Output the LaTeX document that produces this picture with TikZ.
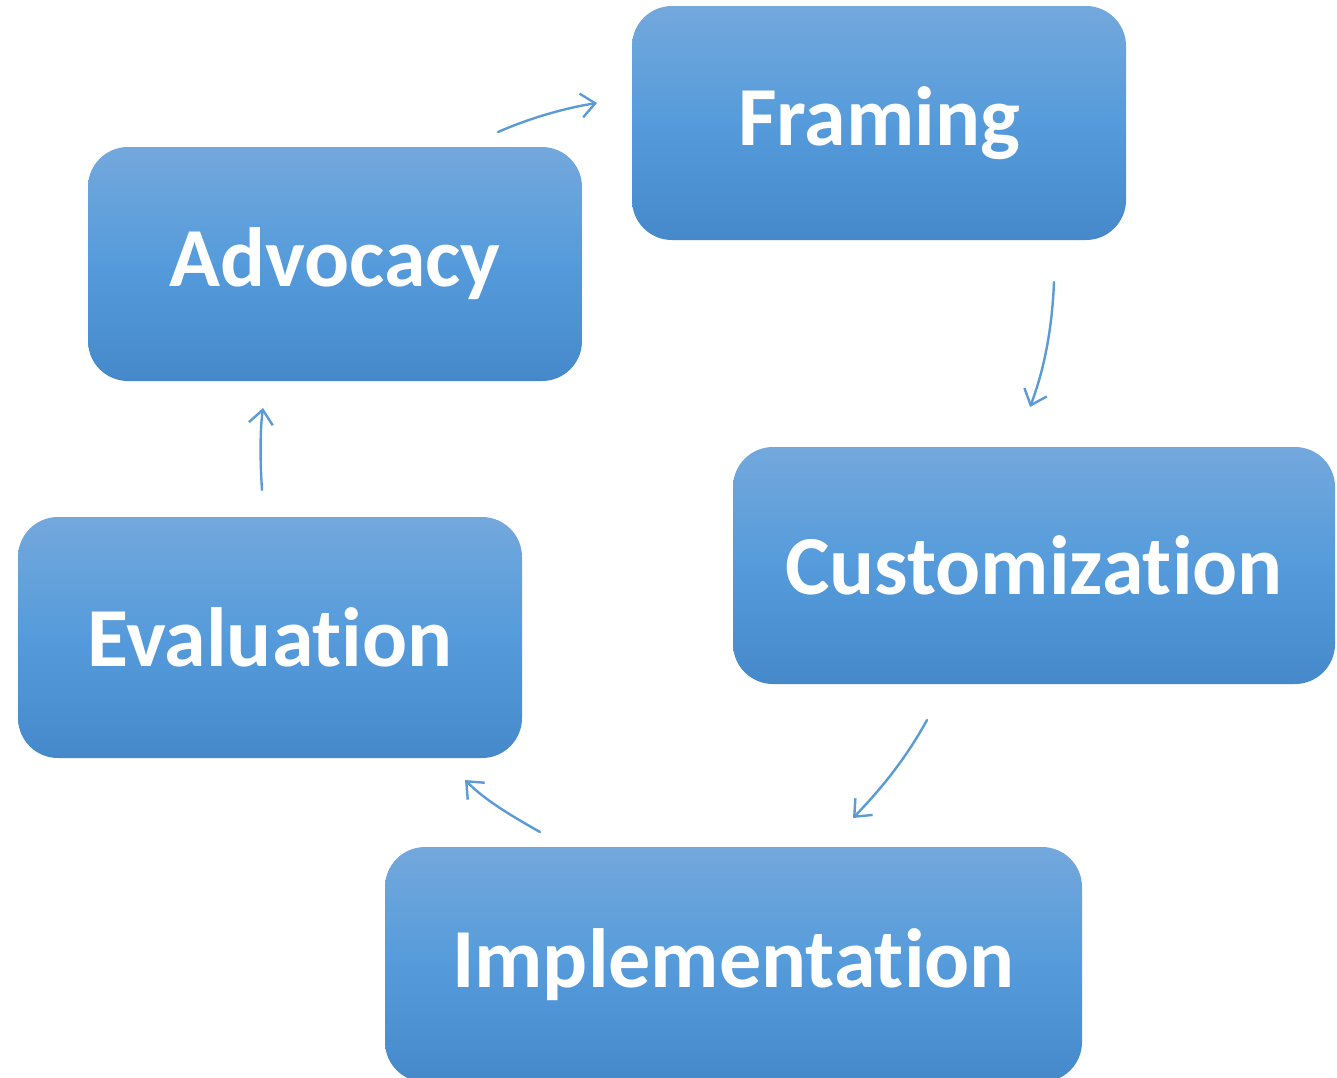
\documentclass[tikz,border=0pt]{standalone}
\usepackage{fontspec}
\setmainfont[Ligatures={NoCommon,NoRare,NoContextual}]{Carlito}
\usetikzlibrary{arrows.meta}
\definecolor{boxtop}{HTML}{73A8DC}
\definecolor{boxmid}{HTML}{559BDB}
\definecolor{boxbot}{HTML}{4589CA}
\definecolor{arrowblue}{HTML}{5B9BD5}
\begin{document}
\begin{tikzpicture}[x=1pt,y=-1pt,
  box/.style={rounded corners=40pt, top color=boxtop, bottom color=boxbot, middle color=boxmid,
    draw=none, inner sep=0pt, text=white,
    font=\fontsize{84}{100}\selectfont\bfseries},
  conn/.style={draw=arrowblue, line width=2.4pt, line cap=round,
    -{Straight Barb[length=14pt,width=24pt,line width=2.4pt]}}]
\useasboundingbox (0,0) rectangle (1337,1077);
\node[box, minimum width=494pt, minimum height=234pt] (framing) at (879,123) {Framing};
\node[box, minimum width=494pt, minimum height=234pt] (advocacy) at (335,264) {Advocacy};
\node[box, minimum width=602pt, minimum height=237pt] (custom) at (1034,565.5) {Customization};
\node[box, minimum width=504pt, minimum height=241pt] (eval) at (270,637.5) {Evaluation};
\node[box, minimum width=697pt, minimum height=235pt] (impl) at (733.5,964.5) {Implementation};
\coordinate (a1s) at (498,132); \coordinate (a1e) at (597,103);
\coordinate (a2s) at (1054,282); \coordinate (a2e) at (1030,407);
\coordinate (a3s) at (927,720); \coordinate (a3e) at (853,818);
\coordinate (a4s) at (540,832); \coordinate (a4e) at (465,780);
\coordinate (a5s) at (262,490); \coordinate (a5e) at (263,408);
\draw[conn] (a1s) .. controls (530,118) and (565,108) .. (a1e);
\draw[conn] (a2s) .. controls (1052,330) and (1044,370) .. (a2e);
\draw[conn] (a3s) .. controls (905,760) and (880,790) .. (a3e);
\draw[conn] (a4s) .. controls (510,815) and (485,800) .. (a4e);
\draw[conn] (a5s) .. controls (260,460) and (260,430) .. (a5e);
\end{tikzpicture}
\end{document}
